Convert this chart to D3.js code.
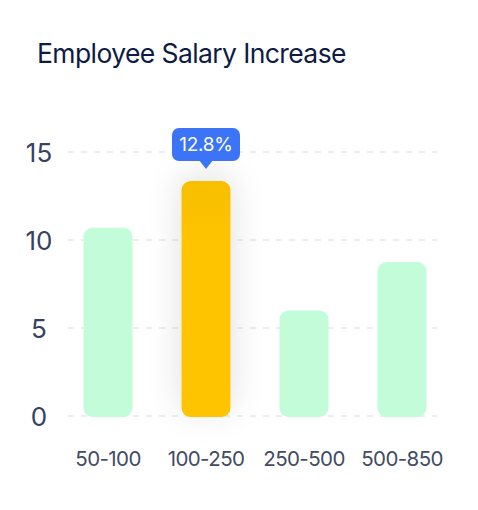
<!DOCTYPE html>
<html><head><meta charset="utf-8">
<script src="https://cdn.jsdelivr.net/npm/d3@7"></script>
<style>
html,body{margin:0;padding:0;background:#fff;}
svg{display:block;font-family:Inter,"Noto Sans",sans-serif;}
</style></head>
<body><svg id="c" width="478" height="510"></svg>
<script>
const categories = ["50-100","100-250","250-500","500-850"];
const values = [10.7, 13.35, 6.0, 8.75];
const yTicks = [0,5,10,15];
const highlightIndex = 1;
const tooltipLabel = "12.8%";
const title = "Employee Salary Increase";

const svg = d3.select("#c");
const defs = svg.append("defs");
const f = defs.append("filter").attr("id","sh").attr("x","-120%").attr("y","-60%").attr("width","340%").attr("height","220%");
f.append("feGaussianBlur").attr("in","SourceAlpha").attr("stdDeviation",18);
f.append("feOffset").attr("dy",-6).attr("result","b");
f.append("feComponentTransfer").append("feFuncA").attr("type","linear").attr("slope",0.13);
const m = f.append("feMerge"); m.append("feMergeNode"); m.append("feMergeNode").attr("in","SourceGraphic");
const g = defs.append("linearGradient").attr("id","yg").attr("x1",0).attr("y1",0).attr("x2",0).attr("y2",1);
g.append("stop").attr("offset","0%").attr("stop-color","#F8BF00");
g.append("stop").attr("offset","30%").attr("stop-color","#FFC400");
g.append("stop").attr("offset","100%").attr("stop-color","#FFC400");

svg.append("text").attr("x",37).attr("y",63).attr("font-size",26.5).attr("letter-spacing",-0.6)
  .attr("fill","#0E1B45").text(title);

const y = d3.scaleLinear().domain([0,15]).range([416,152]);
const x = d3.scaleBand().domain(categories).range([59,451]).paddingInner(0.5).paddingOuter(0.25);

const grid = svg.append("g");
grid.selectAll("line").data(yTicks).join("line")
  .attr("x1",68).attr("x2",437).attr("y1",d=>y(d)).attr("y2",d=>y(d))
  .attr("stroke","#E6E8EC").attr("stroke-width",1.5).attr("stroke-dasharray","6,7");

const yAxis = svg.append("g").attr("transform","translate(39,0)")
  .call(d3.axisLeft(y).tickValues(yTicks).tickSize(0).tickPadding(0));
yAxis.select(".domain").remove();
yAxis.selectAll("text").attr("text-anchor","middle").attr("font-size",26).attr("fill","#364260")
  .attr("font-family","Inter").attr("dy","0.36em");

const xAxis = svg.append("g").attr("transform","translate(0,466)")
  .call(d3.axisBottom(x).tickSize(0).tickPadding(0));
xAxis.select(".domain").remove();
xAxis.selectAll("text").attr("font-size",20.5).attr("letter-spacing",-0.6).attr("fill","#414B63")
  .attr("font-family","Inter").attr("dy","0");

const bars = svg.append("g");
bars.selectAll("rect").data(values).join("rect")
  .attr("x",(d,i)=>x(categories[i])).attr("width",x.bandwidth())
  .attr("y",d=>y(d)).attr("height",d=>y(0)-y(d)+1)
  .attr("rx",9)
  .attr("fill",(d,i)=>i===highlightIndex?"url(#yg)":"#C2FCD9")
  .attr("filter",(d,i)=>i===highlightIndex?"url(#sh)":null);

// tooltip
const cx = x(categories[highlightIndex]) + x.bandwidth()/2;
const tipY = y(values[highlightIndex]) - 12;
const tg = svg.append("g");
const bw = 68, bh = 33, bt = tipY - 8 - bh;
tg.append("rect").attr("x",cx-bw/2).attr("y",bt).attr("width",bw).attr("height",bh).attr("rx",7).attr("fill","#3B74F6");
tg.append("path").attr("d",`M${cx-7},${bt+bh-1} L${cx},${tipY} L${cx+7},${bt+bh-1} Z`).attr("fill","#3B74F6");
tg.append("text").attr("x",cx).attr("y",bt+bh/2).attr("dy","0.36em").attr("text-anchor","middle")
  .attr("font-size",19).attr("letter-spacing",-0.3).attr("fill","#fff").text(tooltipLabel);
</script></body></html>
